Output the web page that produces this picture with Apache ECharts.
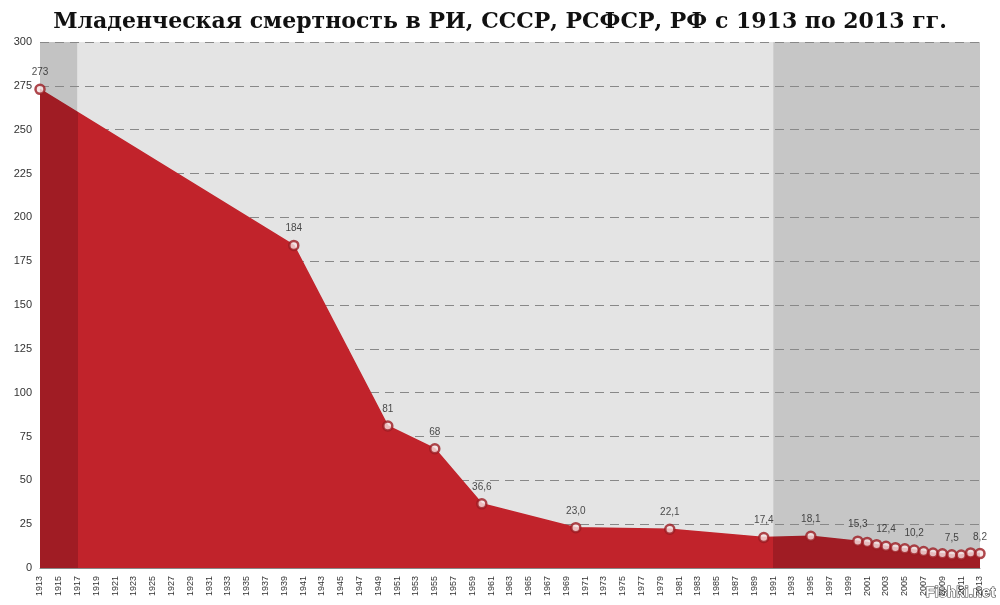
<!DOCTYPE html><html><head><meta charset="utf-8"><script src="https://cdn.jsdelivr.net/npm/echarts@6/dist/echarts.min.js"></script></head><body style="margin:0"><div id="c" style="width:1000px;height:605px"></div><script>
const pointYears=[1913,1940,1950,1955,1960,1970,1980,1990,1995,2000,2001,2002,2003,2004,2005,2006,2007,2008,2009,2010,2011,2012,2013];
const pointValues=[273,184,81,68,36.6,23.0,22.1,17.4,18.1,15.3,14.6,13.3,12.4,11.6,11.0,10.2,9.4,8.5,8.1,7.5,7.4,8.6,8.2];
const labelYears=[1913,1940,1950,1955,1960,1970,1980,1990,1995,2000,2003,2006,2010,2013];
const years=[];for(let y=1913;y<=2013;y++)years.push(String(y));
const lineData=years.map(y=>{const i=pointYears.indexOf(+y);return i<0?null:pointValues[i];});
const pts=pointYears.map((y,i)=>{const v=pointValues[i];
 return {value:[String(y),v],label:{show:labelYears.includes(y),formatter:Number.isInteger(v)&&v>30?String(v):v.toFixed(1).replace('.',',')}};});
const ch=echarts.init(document.getElementById('c'));
ch.setOption({backgroundColor:'#fff',
title:{text:'Младенческая смертность в РИ, СССР, РСФСР, РФ с 1913 по 2013 гг.',left:'center',top:6,textStyle:{fontFamily:'DejaVu Serif',fontWeight:'bold',fontSize:22,color:'#111'}},
grid:{left:40,right:20,top:42,bottom:37},
xAxis:{type:'category',data:years,boundaryGap:false,axisLine:{lineStyle:{color:'#888'}},axisTick:{show:false},
 axisLabel:{interval:1,rotate:90,fontSize:9,color:'#333',fontFamily:'Liberation Sans'},splitLine:{show:false}},
yAxis:{type:'value',min:0,max:300,interval:25,axisLine:{show:false},axisTick:{show:false},
 axisLabel:{fontSize:11,color:'#333',fontFamily:'Liberation Sans'},splitLine:{lineStyle:{type:[9,6],color:'#888',width:1}}},
visualMap:{show:false,type:'piecewise',dimension:0,seriesIndex:0,pieces:[{lt:4,color:'#a01c24'},{gte:4,lt:78,color:'#c1232b'},{gte:78,color:'#a01c24'}]},
series:[{type:'line',data:lineData,connectNulls:true,symbol:'none',z:3,lineStyle:{width:1.5},areaStyle:{opacity:1},
 markArea:{silent:true,z:-1,data:[
  [{xAxis:'1913',itemStyle:{color:'#c3c3c3'}},{xAxis:'1917'}],
  [{xAxis:'1917',itemStyle:{color:'#e4e4e4'}},{xAxis:'1991'}],
  [{xAxis:'1991',itemStyle:{color:'#c6c6c6'}},{xAxis:'2013'}]]}},
 {type:'scatter',data:pts,symbolSize:9,z:5,itemStyle:{color:'#f6e3e3',borderColor:'#9b1a20',borderWidth:2.5},
 label:{position:'top',fontSize:10,color:'#222',fontFamily:'Liberation Sans',distance:6}}],
graphic:[{type:'text',right:4,bottom:4,style:{text:'Fishki.net',fontSize:15,fill:'#fff',stroke:'#444',lineWidth:1.2,fontFamily:'Liberation Sans',fontWeight:'bold'}}]
});
</script></body></html>
